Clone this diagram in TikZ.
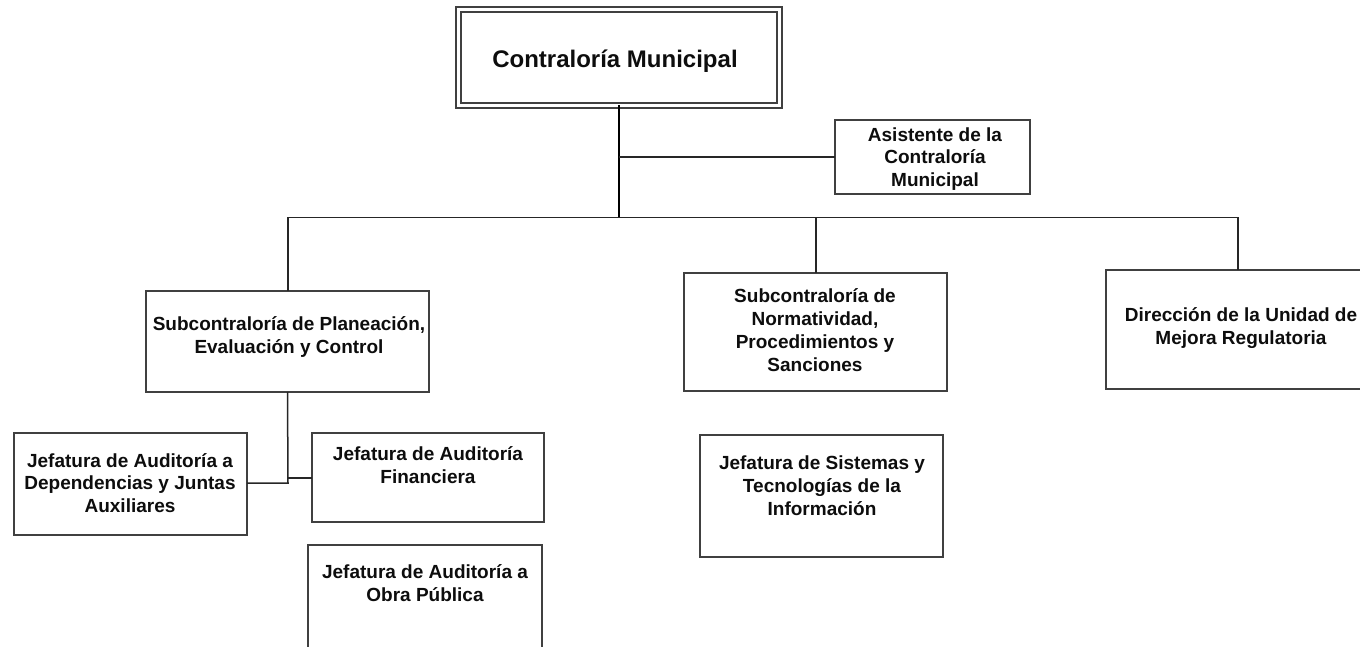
\documentclass[tikz,border=0pt]{standalone}
\usepackage{fontspec}
\setmainfont{Liberation Sans}
\begin{document}
\begin{tikzpicture}[x=1pt,y=-1pt,
  box/.style={draw=black!75,line width=1.6pt,inner sep=0pt,outer sep=0pt,fill=white},
  lbl/.style={align=center,inner sep=0pt,text=black!95,font=\fontsize{19}{22.8}\selectfont\bfseries},
  conn/.style={draw=black!85,line width=1.5pt},
  trunk/.style={draw=black,line width=2.4pt}]
\useasboundingbox (0,0) rectangle (1360,647);
\clip (0,0) rectangle (1360,647);
% boxes
\node[box,double,double distance=3.4pt,minimum width=321pt,minimum height=96pt] (top) at (619,57.5) {};
\node[box,minimum width=195pt,minimum height=74pt] (asist) at (932.5,157) {};
\node[box,minimum width=283pt,minimum height=101pt] (subP) at (287.5,341.5) {};
\node[box,minimum width=263pt,minimum height=118pt] (subN) at (815.5,332) {};
\node[box,minimum width=270pt,minimum height=119pt] (dir) at (1241,329.5) {};
\node[box,minimum width=233pt,minimum height=102pt] (dep) at (130.5,484) {};
\node[box,minimum width=232pt,minimum height=89pt] (fin) at (428,477.5) {};
\node[box,minimum width=234pt,minimum height=110pt] (obra) at (425,600) {};
\node[box,minimum width=243pt,minimum height=122pt] (sis) at (821.5,496) {};
% labels
\node[lbl,font=\fontsize{24}{28}\selectfont\bfseries] (ttop) at (615,61) {Contraloría Municipal};
\node[lbl] (tasist) at (935,159) {Asistente de la\\Contraloría\\Municipal};
\node[lbl] (tsubP) at (289,337) {Subcontraloría de Planeación,\\Evaluación y Control};
\node[lbl] (tsubN) at (815,330) {Subcontraloría de\\Normatividad,\\Procedimientos y\\Sanciones};
\node[lbl] (tdir) at (1241,328) {Dirección de la Unidad de\\Mejora Regulatoria};
\node[lbl] (tdep) at (130,483) {Jefatura de Auditoría a\\Dependencias y Juntas\\Auxiliares};
\node[lbl] (tfin) at (428,465.5) {Jefatura de Auditoría\\Financiera};
\node[lbl] (tobra) at (425,583) {Jefatura de Auditoría a\\Obra Pública};
\node[lbl] (tsis) at (822,486) {Jefatura de Sistemas y\\Tecnologías de la\\Información};
% connectors
\coordinate (bus) at (619,217.5);
\coordinate (busL) at (288,217.5);
\coordinate (busM) at (816,217.5);
\coordinate (busR) at (1238,217.5);
\coordinate (jA) at (288,483);
\coordinate (jB) at (288,478);
\draw[trunk] (top.south) -- (bus);
\draw[conn] (top.south |- asist.west) -- (asist.west);
\draw[conn] (busL) -- (busR);
\draw[conn] (busL) -- (busL |- subP.north);
\draw[conn] (busM) -- (busM |- subN.north);
\draw[conn] (busR) -- (busR |- dir.north);
\draw[conn] (subP.south) -- (jA) -- (jA -| dep.east);
\draw[conn] (jB) -- (jB -| fin.west);
\end{tikzpicture}
\end{document}
